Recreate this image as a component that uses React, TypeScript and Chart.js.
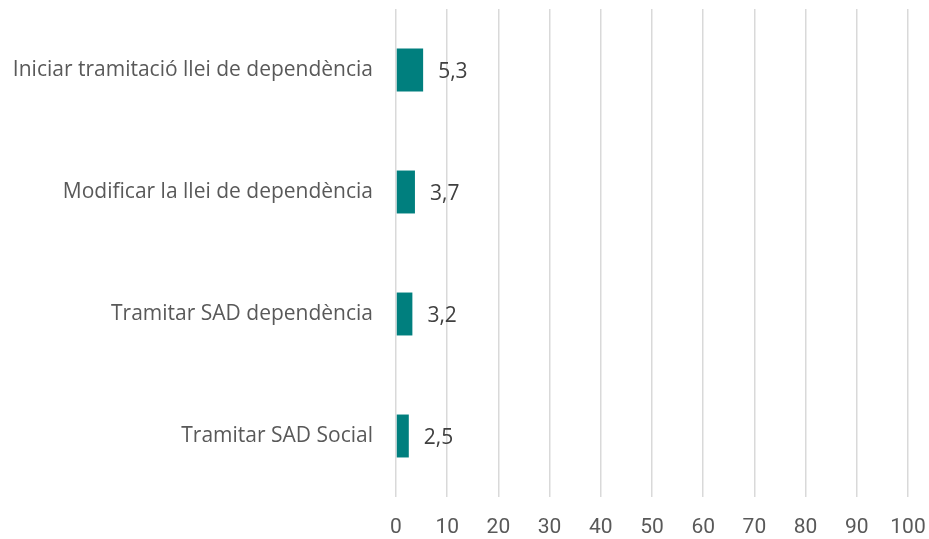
import React, { useEffect, useRef } from "react";
import { Chart, registerables } from "chart.js";

Chart.register(...registerables);

const categories = [
  "Iniciar tramitació llei de dependència",
  "Modificar la llei de dependència",
  "Tramitar SAD dependència",
  "Tramitar SAD Social",
];
const values = [5.3, 3.7, 3.2, 2.5];
const xTicks = [0, 10, 20, 30, 40, 50, 60, 70, 80, 90, 100];

const barColor = "#007F7E";
const labelColor = "#595959";
const valueColor = "#404040";

const valueLabels = {
  id: "valueLabels",
  afterDatasetsDraw(chart: any) {
    const ctx = chart.ctx;
    const meta = chart.getDatasetMeta(0);
    ctx.save();
    ctx.font = "21px 'Open Sans'";
    ctx.fillStyle = valueColor;
    ctx.textAlign = "left";
    ctx.textBaseline = "middle";
    meta.data.forEach((el: any, i: number) => {
      const txt = values[i].toFixed(1).replace(".", ",");
      ctx.fillText(txt, el.x + 15, el.y + 2);
    });
    ctx.restore();
  },
};

export default function App() {
  const ref = useRef<HTMLCanvasElement | null>(null);
  useEffect(() => {
    if (!ref.current) return;
    const chart = new Chart(ref.current, {
      type: "bar",
      data: {
        labels: categories,
        datasets: [
          {
            data: values,
            backgroundColor: barColor,
            categoryPercentage: 1,
            barPercentage: 0.352,
          },
        ],
      },
      options: {
        indexAxis: "y",
        animation: false,
        responsive: true,
        maintainAspectRatio: false,
        layout: { padding: { top: 9, right: 21, bottom: 0, left: 0 } },
        plugins: {
          legend: { display: false },
          tooltip: { enabled: false },
        },
        scales: {
          x: {
            min: 0,
            max: 100,
            afterFit: (s: any) => {
              s.height = 42;
              s.paddingLeft = 0;
              s.paddingRight = 0;
            },
            afterBuildTicks: (s: any) => {
              s.ticks = xTicks.map((v) => ({ value: v }));
            },
            border: { display: false },
            grid: {
              color: "#d9d9d9",
              lineWidth: 1.5,
              drawTicks: false,
            },
            ticks: {
              padding: 18,
              color: labelColor,
              font: { family: "'Roboto'", size: 21 },
              maxRotation: 0,
              autoSkip: false,
            },
          },
          y: {
            afterFit: (s: any) => {
              s.width = 396;
              s.paddingTop = 0;
              s.paddingBottom = 0;
            },
            border: { display: false },
            grid: { display: false, drawTicks: false },
            ticks: {
              padding: 23,
              color: labelColor,
              font: { family: "'Open Sans'", size: 21 },
            },
          },
        },
      },
      plugins: [valueLabels],
    });
    return () => chart.destroy();
  }, []);
  return (
    <div style={{ position: "absolute", left: 0, top: 0, width: 929, height: 539, background: "#fff" }}>
      <canvas ref={ref} />
    </div>
  );
}
